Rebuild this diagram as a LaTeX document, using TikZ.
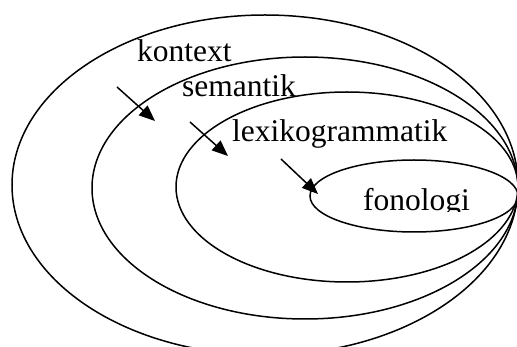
\documentclass[tikz,border=0pt]{standalone}
\usepackage{fontspec}
\setmainfont{Liberation Serif}
\usetikzlibrary{shapes.geometric,arrows.meta}
\begin{document}
\begin{tikzpicture}[x=1pt,y=-1pt,
  ring/.style={draw,line width=1.5pt,ellipse,inner sep=0pt},
  lbl/.style={anchor=base west,inner sep=0pt,font=\fontsize{31.5}{36}\selectfont},
  pointer/.style={line width=1.5pt,-{Triangle[length=16pt,width=13pt]}}]
\useasboundingbox (0,0) rectangle (517,347);
\clip (0,0) rectangle (517,347);
% nested levels, all meeting at the right edge
\node[ring,minimum width=506pt,minimum height=340pt] (ctx) at (265,185) {};
\node[ring,minimum width=426pt,minimum height=262pt] (sem) at (305,188) {};
\node[ring,minimum width=342pt,minimum height=190pt] (lex) at (347,187) {};
\node[ring,minimum width=208pt,minimum height=72pt] (fon) at (414,196) {};
% labels
\node[lbl] (tctx) at (137,62) {kontext};
\node[lbl] (tsem) at (182,97) {semantik};
\node[lbl] (tlex) at (232,142) {lexikogrammatik};
\begin{scope}
  \clip (330,150) rectangle (500,212);
  \node[lbl] (tfon) at (363,211) {fonologi};
\end{scope}
% pointers into each level
\coordinate (a1) at (117,87);  \coordinate (b1) at (155,121);
\coordinate (a2) at (190,122); \coordinate (b2) at (228,156);
\coordinate (a3) at (281,159); \coordinate (b3) at (318,194);
\draw[pointer] (a1) -- (b1);
\draw[pointer] (a2) -- (b2);
\draw[pointer] (a3) -- (b3);
\end{tikzpicture}
\end{document}
